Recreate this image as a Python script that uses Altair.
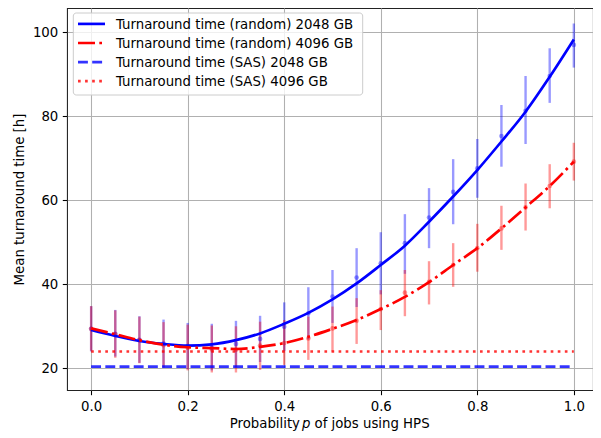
import altair as alt
import pandas as pd

# ---- data ----
p_vals = [0.0, 0.05, 0.1, 0.15, 0.2, 0.25, 0.3, 0.35, 0.4, 0.45, 0.5,
          0.55, 0.6, 0.65, 0.7, 0.75, 0.8, 0.85, 0.9, 0.95, 1.0]

# fitted curves
blue_line = [29.1, 27.7, 26.5, 25.8, 25.4, 25.7, 26.7, 28.3, 30.6, 33.2, 36.4,
             40.2, 44.6, 49.2, 54.9, 60.9, 67.2, 74.0, 81.1, 89.4, 98.3]
red_line = [29.5, 28.1, 26.7, 25.6, 25.0, 24.8, 24.6, 25.1, 26.0, 27.5, 29.4,
            31.5, 34.1, 37.0, 40.5, 44.6, 48.6, 53.3, 58.3, 63.4, 69.2]

# measured means with error bars
blue_mean = [29.4, 28.2, 26.8, 25.9, 25.3, 24.9, 25.8, 27.0, 29.9, 33.1, 37.1,
             41.6, 45.0, 49.8, 55.9, 62.0, 67.6, 75.3, 81.3, 89.6, 97.0]
blue_lo = [24.0, 22.8, 21.3, 20.2, 19.8, 19.5, 20.3, 21.5, 24.1, 26.9, 30.8,
           34.6, 37.6, 42.5, 48.6, 54.3, 60.6, 68.0, 73.4, 83.2, 91.6]
blue_hi = [34.8, 33.9, 32.4, 31.6, 30.8, 30.6, 31.3, 32.5, 35.7, 39.3, 43.4,
           48.6, 52.4, 56.7, 62.9, 69.8, 74.6, 82.7, 89.6, 96.2, 102.1]

red_mean = [29.4, 28.1, 26.7, 25.5, 24.9, 24.5, 24.4, 25.4, 26.0, 27.1, 29.5,
            31.3, 34.1, 38.0, 40.6, 44.6, 48.6, 53.3, 58.3, 63.4, 69.2]
red_lo = [24.2, 22.5, 21.2, 20.2, 19.5, 19.0, 19.0, 19.6, 20.8, 22.0, 24.0,
          25.8, 29.1, 32.4, 35.2, 39.4, 43.0, 48.2, 52.8, 58.1, 64.7]
red_hi = [34.8, 33.8, 32.3, 31.0, 30.4, 30.2, 30.0, 31.1, 31.5, 32.3, 34.7,
          36.7, 38.6, 43.4, 45.5, 49.8, 54.4, 58.7, 64.0, 68.6, 73.7]

# SAS constant lines
sas_p = [0.0, 1.0]
sas_2048 = [20.4, 20.4]
sas_4096 = [24.0, 24.0]

legend_labels = [
    "Turnaround time (random) 2048 GB",
    "Turnaround time (random) 4096 GB",
    "Turnaround time (SAS) 2048 GB",
    "Turnaround time (SAS) 4096 GB",
]
x_ticks = [0.0, 0.2, 0.4, 0.6, 0.8, 1.0]
y_ticks = [20, 40, 60, 80, 100]

BLUE = "#0000ff"
RED = "#ff0000"
FONT = "DejaVu Sans"
FS = 13.3
LW = 2.67

df_blue = pd.DataFrame({"p": p_vals, "v": blue_mean, "lo": blue_lo, "hi": blue_hi, "fit": blue_line})
df_red = pd.DataFrame({"p": p_vals, "v": red_mean, "lo": red_lo, "hi": red_hi, "fit": red_line})
df_sas2048 = pd.DataFrame({"p": sas_p, "v": sas_2048})
df_sas4096 = pd.DataFrame({"p": sas_p, "v": sas_4096})
df_one = pd.DataFrame({"k": [0]})

xs = alt.Scale(domain=[-0.05, 1.0397], nice=False, zero=False)
ys = alt.Scale(domain=[14.83, 105.79], nice=False, zero=False)
xax = alt.Axis(values=x_ticks, format=".1f", title=None, labelPadding=5)
yax = alt.Axis(values=y_ticks, title="Mean turnaround time [h]", titlePadding=6, labelPadding=4.5)


def X():
    return alt.X("p:Q", scale=xs, axis=xax)


def Y(field="v"):
    return alt.Y(f"{field}:Q", scale=ys, axis=yax)


err_b = alt.Chart(df_blue).mark_rule(color=BLUE, opacity=0.4, strokeWidth=2.4).encode(
    x=X(), y=Y("lo"), y2="hi")
err_r = alt.Chart(df_red).mark_rule(color=RED, opacity=0.4, strokeWidth=2.4).encode(
    x=X(), y=Y("lo"), y2="hi")
pts_b = alt.Chart(df_blue).mark_circle(color=BLUE, opacity=0.4, size=22).encode(x=X(), y=Y("v"))
pts_r = alt.Chart(df_red).mark_circle(color=RED, opacity=0.4, size=22).encode(x=X(), y=Y("v"))

line_b = alt.Chart(df_blue).mark_line(color=BLUE, strokeWidth=LW, interpolate="monotone").encode(
    x=X(), y=Y("fit"))
line_r = alt.Chart(df_red).mark_line(color=RED, strokeWidth=LW, interpolate="monotone",
                                     strokeDash=[17, 4.3, 2.7, 4.3]).encode(x=X(), y=Y("fit"))
sas_b = alt.Chart(df_sas2048).mark_line(color=BLUE, strokeWidth=LW, opacity=0.8,
                                        strokeDash=[9.9, 4.3]).encode(x=X(), y=Y("v"))
sas_r = alt.Chart(df_sas4096).mark_line(color=RED, strokeWidth=LW, opacity=0.8,
                                        strokeDash=[2.67, 4.4]).encode(x=X(), y=Y("v"))

# ---- legend (manual, matplotlib style) ----
leg_box = alt.Chart(df_one).mark_rect(fill="white", fillOpacity=0.8, stroke="#cccccc",
                                      strokeWidth=1, cornerRadius=3).encode(
    x=alt.value(6.3), x2=alt.value(295.7), y=alt.value(5), y2=alt.value(87))

row_y = [15.9, 35.0, 54.1, 73.2]
leg_styles = [
    dict(color=BLUE, opacity=1.0),
    dict(color=RED, opacity=1.0, strokeDash=[17, 4.3, 2.7, 4.3]),
    dict(color=BLUE, opacity=0.8, strokeDash=[9.9, 4.3]),
    dict(color=RED, opacity=0.8, strokeDash=[2.67, 4.4]),
]
leg_layers = []
for i in range(4):
    leg_layers.append(
        alt.Chart(df_one).mark_rule(strokeWidth=LW, **leg_styles[i]).encode(
            x=alt.value(11), x2=alt.value(38), y=alt.value(row_y[i])))
    leg_layers.append(
        alt.Chart(df_one).mark_text(text=legend_labels[i], align="left", baseline="alphabetic",
                                    font=FONT, fontSize=FS, color="#000000").encode(
            x=alt.value(49), y=alt.value(row_y[i] + 4.85)))

# ---- x axis title with italic p ----
title_y = 419.5
xt1 = alt.Chart(df_one).mark_text(text="Probability", align="left", baseline="alphabetic",
                                  font=FONT, fontSize=FS, color="#000000").encode(
    x=alt.value(162.7), y=alt.value(title_y))
xt2 = alt.Chart(df_one).mark_text(text="p", align="left", baseline="alphabetic", font=FONT,
                                  fontSize=FS, fontStyle="italic", color="#000000").encode(
    x=alt.value(235.0), y=alt.value(title_y))
xt3 = alt.Chart(df_one).mark_text(text="of jobs using HPS", align="left", baseline="alphabetic",
                                  font=FONT, fontSize=FS, color="#000000").encode(
    x=alt.value(247.5), y=alt.value(title_y))

chart = alt.layer(
    err_b, err_r, pts_b, pts_r, line_b, line_r, sas_b, sas_r,
    leg_box, *leg_layers, xt1, xt2, xt3
).properties(
    width=526, height=382,
    padding={"left": 59, "top": 0, "right": 0, "bottom": 42},
    autosize=alt.AutoSizeParams(type="none"),
    background="white",
).configure_view(
    stroke="#222222", strokeWidth=1.07
).configure_axis(
    grid=True, gridColor="#b0b0b0", gridWidth=1.07, domain=False,
    tickColor="#000000", tickSize=4.7, tickWidth=1.07,
    labelFont=FONT, labelFontSize=FS, labelColor="#000000",
    titleFont=FONT, titleFontSize=FS, titleFontWeight="normal", titleColor="#000000",
)

chart.save("out.html", embed_options={"renderer": "svg", "actions": False})
